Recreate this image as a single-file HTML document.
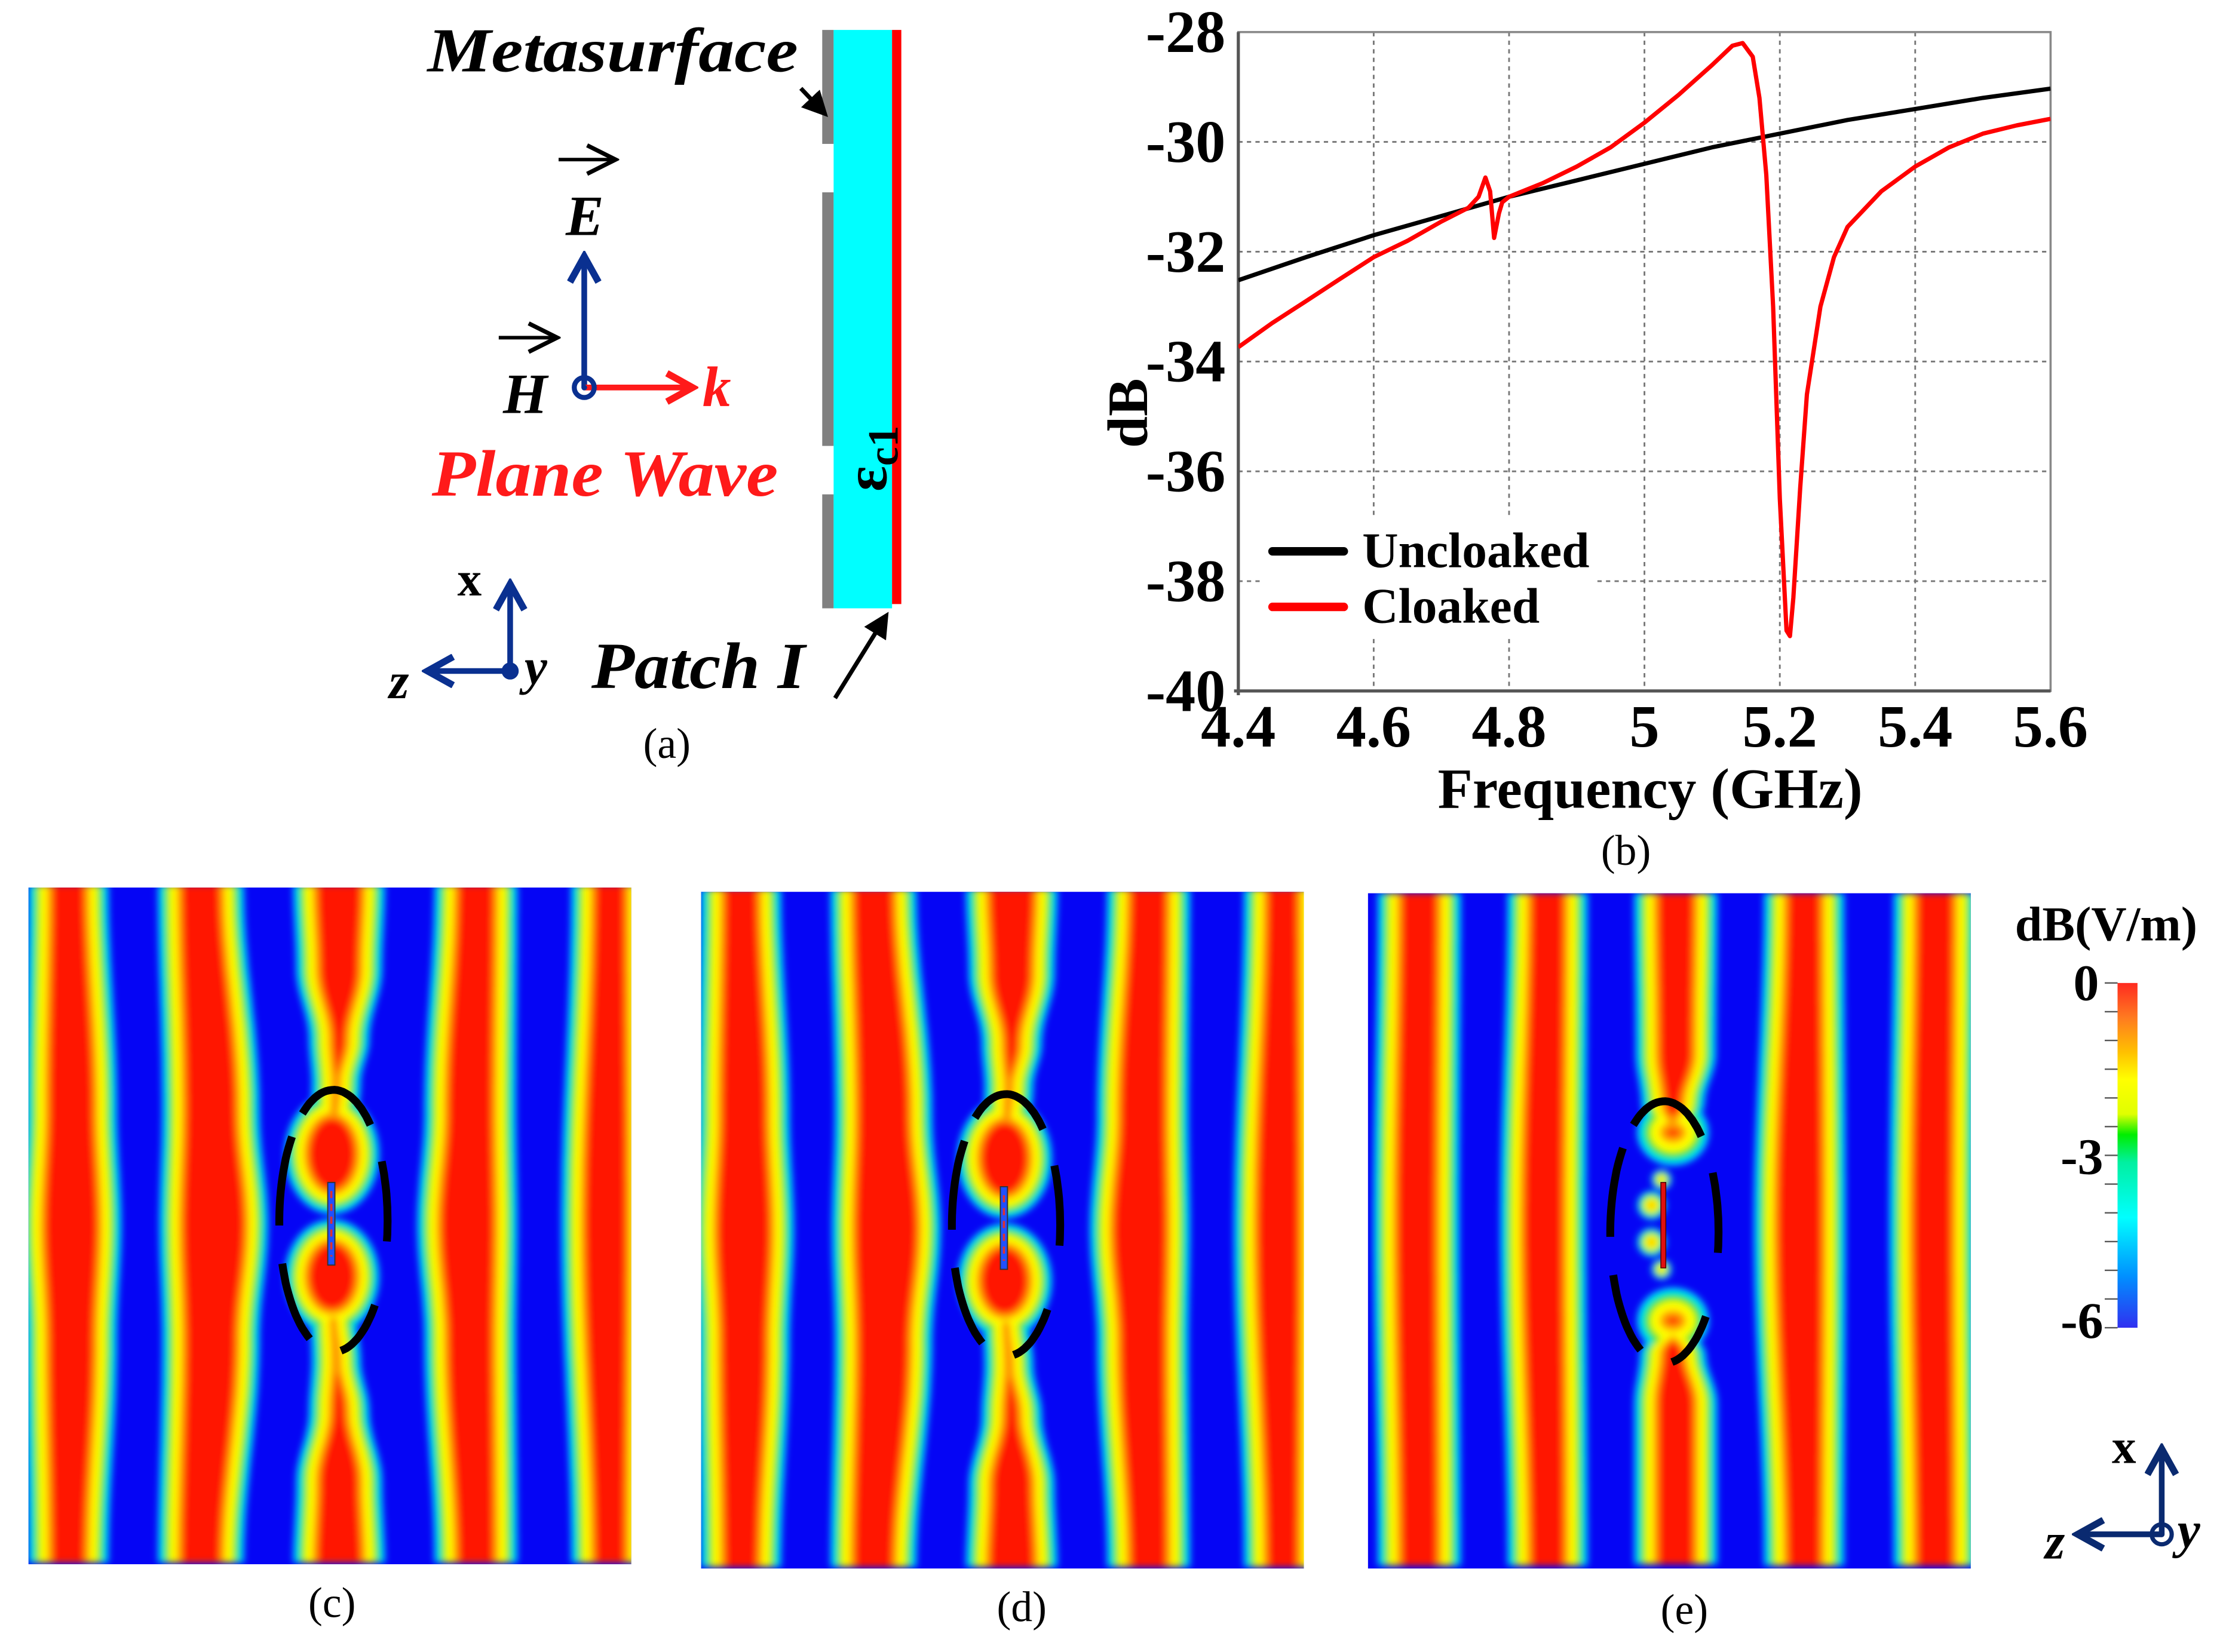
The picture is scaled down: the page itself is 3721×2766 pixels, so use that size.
<!DOCTYPE html>
<html><head><meta charset="utf-8"><title>Metasurface cloak results</title>
<style>
html,body{margin:0;padding:0;background:#fff;}
svg{display:block;}
text{font-family:"Liberation Serif",serif;}
</style></head>
<body>
<svg id="fig" width="3721" height="2766" viewBox="0 0 1560 1159.6" xmlns="http://www.w3.org/2000/svg">
<defs>
  <filter id="soft" x="-5%" y="-5%" width="110%" height="110%"><feGaussianBlur stdDeviation="2.4"/></filter>
  <clipPath id="clipC"><rect x="20" y="623" width="423" height="475"/></clipPath>
  <clipPath id="clipE"><rect x="960" y="627" width="423" height="474"/></clipPath>
  <clipPath id="clipPlot"><rect x="869" y="22" width="570" height="463"/></clipPath>
  <linearGradient id="cbar" x1="0" y1="0" x2="0" y2="1">
    <stop offset="0" stop-color="#ff2a20"/>
    <stop offset="0.1" stop-color="#ff7a20"/>
    <stop offset="0.2" stop-color="#ffc000"/>
    <stop offset="0.28" stop-color="#ffff00"/>
    <stop offset="0.38" stop-color="#e0ff00"/>
    <stop offset="0.44" stop-color="#00ee00"/>
    <stop offset="0.52" stop-color="#00f0a0"/>
    <stop offset="0.68" stop-color="#00ffff"/>
    <stop offset="0.85" stop-color="#0090ff"/>
    <stop offset="1" stop-color="#3030f0"/>
  </linearGradient>
  <marker id="arrBlue" markerWidth="6" markerHeight="6" refX="5" refY="3" orient="auto" markerUnits="strokeWidth"><path d="M0.5,0.5 L5,3 L0.5,5.5" fill="none" stroke="#0a3090" stroke-width="1.2"/></marker>
  <marker id="arrRed" markerWidth="6" markerHeight="6" refX="5" refY="3" orient="auto" markerUnits="strokeWidth"><path d="M0.5,0.5 L5,3 L0.5,5.5" fill="none" stroke="#ff1a1a" stroke-width="1.2"/></marker>
  <marker id="arrBlk" markerWidth="6" markerHeight="6" refX="5" refY="3" orient="auto" markerUnits="strokeWidth"><path d="M0,0 L6,3 L0,6 z" fill="#000"/></marker>
  <marker id="arrThin" markerWidth="10" markerHeight="10" refX="9" refY="5" orient="auto" markerUnits="strokeWidth"><path d="M1,1 L9,5 L1,9" fill="none" stroke="#000" stroke-width="1.2"/></marker>
  <marker id="arrNavy" markerWidth="6" markerHeight="6" refX="5" refY="3" orient="auto" markerUnits="strokeWidth"><path d="M0.5,0.5 L5,3 L0.5,5.5" fill="none" stroke="#0a2a70" stroke-width="1.2"/></marker>
</defs>

<g>
  <rect x="577" y="21" width="8" height="80" fill="#808080"/>
  <rect x="577" y="135" width="8" height="178" fill="#808080"/>
  <rect x="577" y="347" width="8" height="80" fill="#808080"/>
  <rect x="585" y="21" width="41" height="406" fill="#00ffff"/>
  <rect x="626" y="21" width="6.5" height="403" fill="#ff0000"/>
  <text transform="translate(622,345) rotate(-90)" font-size="42" font-weight="bold">ε<tspan font-size="30" dy="8">c1</tspan></text>
  <text x="300" y="50" font-size="44" font-weight="bold" font-style="italic" textLength="260" lengthAdjust="spacingAndGlyphs">Metasurface</text>
  <line x1="562" y1="62" x2="579" y2="80" stroke="#000" stroke-width="3" marker-end="url(#arrBlk)"/>
  <text x="415" y="483" font-size="46" font-weight="bold" font-style="italic" textLength="150" lengthAdjust="spacingAndGlyphs">Patch I</text>
  <line x1="586" y1="490" x2="622" y2="432" stroke="#000" stroke-width="3" marker-end="url(#arrBlk)"/>
  <line x1="410" y1="272" x2="410" y2="180" stroke="#0a3090" stroke-width="4" marker-end="url(#arrBlue)"/>
  <line x1="410" y1="272" x2="486" y2="272" stroke="#ff1a1a" stroke-width="4" marker-end="url(#arrRed)"/>
  <circle cx="410" cy="272" r="7" fill="none" stroke="#0a3090" stroke-width="3.5"/>
  <circle cx="410" cy="272" r="2" fill="#0a3090"/>
  <text x="397" y="165" font-size="40" font-weight="bold" font-style="italic">E</text>
  <line x1="392" y1="112" x2="432" y2="112" stroke="#000" stroke-width="2.5" marker-end="url(#arrThin)"/>
  <text x="353" y="290" font-size="40" font-weight="bold" font-style="italic">H</text>
  <line x1="350" y1="237" x2="391" y2="237" stroke="#000" stroke-width="2.5" marker-end="url(#arrThin)"/>
  <text x="493" y="285" font-size="40" font-weight="bold" font-style="italic" fill="#ff1a1a">k</text>
  <text x="303" y="348" font-size="46" font-weight="bold" font-style="italic" fill="#ff1a1a" textLength="243" lengthAdjust="spacingAndGlyphs">Plane Wave</text>
  <line x1="358" y1="471" x2="358" y2="410" stroke="#0a3090" stroke-width="4" marker-end="url(#arrBlue)"/>
  <line x1="358" y1="471" x2="300" y2="471" stroke="#0a3090" stroke-width="4" marker-end="url(#arrBlue)"/>
  <circle cx="358" cy="471" r="6" fill="#0a3090"/>
  <text x="321" y="418" font-size="34" font-weight="bold">x</text>
  <text x="273" y="490" font-size="36" font-weight="bold" font-style="italic">z</text>
  <text x="368" y="480" font-size="36" font-weight="bold" font-style="italic">y</text>
  <text x="468" y="532" font-size="30" text-anchor="middle">(a)</text>
</g>

<g id="chart"></g>
<g id="maps"></g>

<g>
  <text x="1414" y="660" font-size="34" font-weight="bold" textLength="128" lengthAdjust="spacingAndGlyphs">dB(V/m)</text>
  <rect x="1486" y="690" width="14" height="242" fill="url(#cbar)"/>
  <g id="cbticks"></g>
  <text x="1473" y="702" font-size="36" font-weight="bold" text-anchor="end">0</text>
  <text x="1476" y="824" font-size="36" font-weight="bold" text-anchor="end">-3</text>
  <text x="1476" y="939" font-size="36" font-weight="bold" text-anchor="end">-6</text>
</g>
<g>
  <line x1="1517" y1="1077" x2="1517" y2="1017" stroke="#0a2a70" stroke-width="4" marker-end="url(#arrNavy)"/>
  <line x1="1517" y1="1077" x2="1458" y2="1077" stroke="#0a2a70" stroke-width="4" marker-end="url(#arrNavy)"/>
  <circle cx="1517" cy="1077" r="7" fill="none" stroke="#0a2a70" stroke-width="3"/>
  <circle cx="1517" cy="1077" r="2" fill="#0a2a70"/>
  <text x="1482" y="1027" font-size="34" font-weight="bold">x</text>
  <text x="1435" y="1094" font-size="36" font-weight="bold" font-style="italic">z</text>
  <text x="1528" y="1086" font-size="36" font-weight="bold" font-style="italic">y</text>
</g>

<script>
const xTicks = [4.4, 4.6, 4.8, 5.0, 5.2, 5.4, 5.6];
const xTickLabels = ["4.4", "4.6", "4.8", "5", "5.2", "5.4", "5.6"];
const yTicks = [-28, -30, -32, -34, -36, -38, -40];
const yTickLabels = ["-28", "-30", "-32", "-34", "-36", "-38", "-40"];
const freqUncloaked = [4.4, 4.5, 4.6, 4.7, 4.8, 4.9, 5.0, 5.1, 5.2, 5.3, 5.4, 5.5, 5.6];
const dbUncloaked = [-32.52, -32.1, -31.7, -31.35, -31.0, -30.7, -30.4, -30.1, -29.85, -29.6, -29.4, -29.2, -29.03];
const freqCloaked = [4.4, 4.45, 4.5, 4.55, 4.6, 4.65, 4.7, 4.74, 4.755, 4.765, 4.772, 4.778, 4.785, 4.79, 4.8, 4.85, 4.9, 4.95, 5.0, 5.05, 5.1, 5.13, 5.145, 5.16, 5.17, 5.18, 5.19, 5.2, 5.21, 5.215, 5.22, 5.23, 5.24, 5.26, 5.28, 5.3, 5.35, 5.4, 5.45, 5.5, 5.55, 5.6];
const dbCloaked = [-33.74, -33.3, -32.9, -32.5, -32.1, -31.8, -31.45, -31.2, -31.0, -30.65, -30.9, -31.75, -31.3, -31.1, -31.0, -30.75, -30.45, -30.1, -29.65, -29.15, -28.6, -28.25, -28.2, -28.45, -29.2, -30.6, -33.0, -36.5, -38.9, -39.0, -38.3, -36.3, -34.6, -33.0, -32.1, -31.55, -30.9, -30.45, -30.1, -29.85, -29.7, -29.58];
const legendLabels = ["Uncloaked", "Cloaked"];

const NS = "http://www.w3.org/2000/svg";
function mk(tag, attrs, parent) {
  const e = document.createElementNS(NS, tag);
  for (const k in attrs) e.setAttribute(k, attrs[k]);
  if (parent) parent.appendChild(e);
  return e;
}
const PX0 = 869, PX1 = 1439, PY0 = 22.5, PY1 = 485;
const xScale = f => PX0 + (f - 4.4) / 1.2 * (PX1 - PX0);
const yScale = v => PY0 + (-28 - v) / 12 * (PY1 - PY0);

const chart = document.getElementById('chart');
xTicks.forEach((t, i) => {
  if (i === 0 || i === xTicks.length - 1) return;
  const g = mk('line', {x1: xScale(t), x2: xScale(t), y1: PY0, y2: PY1, stroke: '#777', 'stroke-width': 1.2, 'stroke-dasharray': '3,3'}, chart);
  
  
});
yTicks.forEach((t, i) => {
  if (i === 0 || i === yTicks.length - 1) return;
  const g = mk('line', {x1: PX0, x2: PX1, y1: yScale(t), y2: yScale(t), stroke: '#777', 'stroke-width': 1.2, 'stroke-dasharray': '3,3'}, chart);
  
  
});
const lbg = mk('rect', {x: 884, y: 362, width: 236, height: 84, fill: '#fff'}, chart);


const frame = mk('rect', {x: PX0, y: PY0, width: PX1 - PX0, height: PY1 - PY0, fill: 'none', stroke: '#888', 'stroke-width': 1.5}, chart);


const ax = mk('line', {x1: PX0, x2: PX0, y1: PY0, y2: PY1 + 3, stroke: '#555', 'stroke-width': 2.2}, chart);


const bx = mk('line', {x1: PX0 - 3, x2: PX1, y1: PY1, y2: PY1, stroke: '#555', 'stroke-width': 2.2}, chart);


xTicks.forEach((t, i) => {
  const tx = mk('text', {x: xScale(t), y: 524, 'font-size': 42, 'font-weight': 'bold', 'text-anchor': 'middle'}, chart);
  tx.textContent = xTickLabels[i];
  
  
});
yTicks.forEach((t, i) => {
  const ty = mk('text', {x: 860, y: yScale(t) + 14, 'font-size': 42, 'font-weight': 'bold', 'text-anchor': 'end'}, chart);
  ty.textContent = yTickLabels[i];
  
  
});
const xt = mk('text', {x: 1158, y: 567, 'font-size': 40, 'font-weight': 'bold', 'text-anchor': 'middle'}, chart);
xt.textContent = 'Frequency (GHz)';


const yt = mk('text', {transform: 'translate(805,290) rotate(-90)', 'font-size': 40, 'font-weight': 'bold', 'text-anchor': 'middle'}, chart);
yt.textContent = 'dB';


const cap = mk('text', {x: 1141, y: 607, 'font-size': 30, 'text-anchor': 'middle'}, chart);
cap.textContent = '(b)';


function pts(fs, vs) { return fs.map((f, i) => xScale(f).toFixed(1) + ',' + yScale(vs[i]).toFixed(1)).join(' '); }
const sU = mk('polyline', {points: pts(freqUncloaked, dbUncloaked), fill: 'none', stroke: '#000', 'stroke-width': 3, 'stroke-linejoin': 'round', 'clip-path': 'url(#clipPlot)'}, chart);


const sC = mk('polyline', {points: pts(freqCloaked, dbCloaked), fill: 'none', stroke: '#ff0000', 'stroke-width': 3, 'stroke-linejoin': 'round', 'clip-path': 'url(#clipPlot)'}, chart);


[['#000', 387, 398], ['#ff0000', 426, 437]].forEach((c, i) => {
  const l = mk('line', {x1: 893, x2: 943, y1: c[1], y2: c[1], stroke: c[0], 'stroke-width': 6, 'stroke-linecap': 'round'}, chart);
  
  
  const t = mk('text', {x: 956, y: c[2], 'font-size': 35, 'font-weight': 'bold'}, chart);
  t.textContent = legendLabels[i];
  
  
});

const cbt = document.getElementById('cbticks');
for (let i = 0; i <= 12; i++) {
  const y = 690 + i * 242 / 12;
  const t = mk('line', {x1: 1477, x2: 1486, y1: y, y2: y, stroke: '#555', 'stroke-width': 1}, cbt);
  
  
}

const maps = document.getElementById('maps');
const layers = [[0, '#00e8ff'], [3.5, '#10e020'], [7.5, '#ffff00'], [13, '#ff9a00'], [17, '#ff1400']];
function interp(prof, y) {
  if (y <= prof[0][0]) return prof[0];
  for (let i = 0; i < prof.length - 1; i++) {
    const a = prof[i], b = prof[i + 1];
    if (y >= a[0] && y <= b[0]) {
      const t = (y - a[0]) / (b[0] - a[0]);
      const s = (1 - Math.cos(Math.PI * t)) / 2;
      return [y, a[1] + (b[1] - a[1]) * s, a[2] + (b[2] - a[2]) * s];
    }
  }
  return prof[prof.length - 1];
}
function bandPath(prof, inset) {
  const y0 = prof[0][0], y1 = prof[prof.length - 1][0];
  const L = [], R = [];
  for (let y = y0; y <= y1 + 0.01; y += 4) {
    const p = interp(prof, y);
    const hw = p[2] - inset;
    if (hw <= 0.3) continue;
    L.push((p[1] - hw).toFixed(1) + ',' + y.toFixed(1));
    R.push((p[1] + hw).toFixed(1) + ',' + y.toFixed(1));
  }
  if (L.length < 2) return '';
  return 'M' + L.join(' L') + ' L' + R.reverse().join(' L') + ' Z';
}
function drawPanel(parent, bands, blobs, clipId, bx, by, bw, bh) {
  const bg = mk('rect', {x: bx, y: by, width: bw, height: bh, fill: '#0505f5'}, parent);
  
  
  const g = mk('g', {'clip-path': 'url(#' + clipId + ')'}, parent);
  const inner = mk('g', {filter: 'url(#soft)'}, g);
  layers.forEach(L => {
    bands.forEach(b => {
      const d = bandPath(b, L[0]);
      if (d) {
        const p = mk('path', {d: d, fill: L[1]}, inner);
        
        
      }
    });
    blobs.forEach(b => {
      const rx = b[2] - L[0] * (b[4] || 1), ry = b[3] - L[0] * (b[4] || 1);
      if (rx > 0.5 && ry > 0.5) {
        const e = mk('ellipse', {cx: b[0], cy: b[1], rx: rx, ry: ry, fill: L[1]}, inner);
        
        
      }
    });
  });
}
function drawCloak(parent, cx, cy, rx, ry) {
  const arcs = [[-125, -45], [-27, 10], [40, 84], [116, 162], [178, 220]];
  arcs.forEach(a => {
    let d = '';
    for (let t = a[0]; t <= a[1] + 0.01; t += 3) {
      const r = t * Math.PI / 180;
      d += (d ? ' L' : 'M') + (cx + rx * Math.cos(r)).toFixed(1) + ',' + (cy + ry * Math.sin(r)).toFixed(1);
    }
    const p = mk('path', {d: d, fill: 'none', stroke: '#000', 'stroke-width': 5.5}, parent);
    
    
  });
}

const bandsC = [
  [[621, 48, 28], [780, 50, 32], [860, 50, 35], [940, 50, 32], [1098, 48, 28]],
  [[621, 141, 30], [780, 148, 34], [860, 150, 38], [940, 148, 34], [1098, 141, 30]],
  [[621, 238, 32], [680, 238, 30], [730, 238, 21], [760, 236, 17], [792, 234, 16]],
  [[925, 234, 16], [955, 236, 17], [990, 238, 21], [1040, 238, 30], [1098, 238, 32]],
  [[621, 334, 29], [780, 330, 32], [860, 328, 35], [940, 330, 32], [1098, 334, 29]],
  [[621, 428, 27], [860, 425, 31], [1098, 428, 27]]
];
const blobsC = [[233, 810, 33, 42], [233, 896, 33, 40]];

function panelCD(offX, offY, name) {
  const g = mk('g', {transform: 'translate(' + offX + ',' + offY + ')'}, maps);
  
  
  drawPanel(g, bandsC, blobsC, 'clipC', 20, 623, 423, 475);
  const patch = mk('rect', {x: 230, y: 830, width: 5, height: 58, fill: '#2050ff', stroke: '#333', 'stroke-width': 0.8}, g);
  
  
  mk('line', {x1: 232.5, x2: 232.5, y1: 836, y2: 882, stroke: '#e03030', 'stroke-width': 1.5, 'stroke-dasharray': '5,4'}, g);
  drawCloak(g, 234, 857, 38, 92);
}
panelCD(0, 0, 'field-map-c');
panelCD(472, 3, 'field-map-d');

const bandsE = [
  [[627, 996, 29], [860, 994, 30], [1101, 996, 29]],
  [[627, 1086, 28], [860, 1083, 30], [1101, 1086, 28]],
  [[627, 1176, 29], [740, 1176, 28], [775, 1174, 22], [800, 1173, 10]],
  [[930, 1174, 10], [950, 1174, 23], [985, 1176, 29], [1101, 1176, 29]],
  [[627, 1266, 28], [860, 1263, 32], [1101, 1266, 28]],
  [[627, 1358, 29], [860, 1356, 30], [1101, 1358, 29]]
];
const blobsE = [[1174, 795, 25, 23, 1.2], [1174, 927, 25, 23, 1.2],
  [1159, 846, 10, 10, 0.6], [1159, 872, 10, 10, 0.6], [1166, 828, 7, 7, 0.45], [1166, 891, 7, 7, 0.45]];
const gE = mk('g', {}, maps);


drawPanel(gE, bandsE, blobsE, 'clipE', 960, 627, 423, 474);
const pE = mk('rect', {x: 1165.5, y: 830, width: 3.5, height: 60, fill: '#e01010', stroke: '#400', 'stroke-width': 0.6}, gE);


drawCloak(gE, 1168, 865, 38, 92);

[['(c)', 233, 1135], ['(d)', 717, 1138], ['(e)', 1182, 1140]].forEach(c => {
  const t = mk('text', {x: c[1], y: c[2], 'font-size': 30, 'text-anchor': 'middle'}, maps);
  t.textContent = c[0];
  
  
});
</script>
</svg>
</body></html>
